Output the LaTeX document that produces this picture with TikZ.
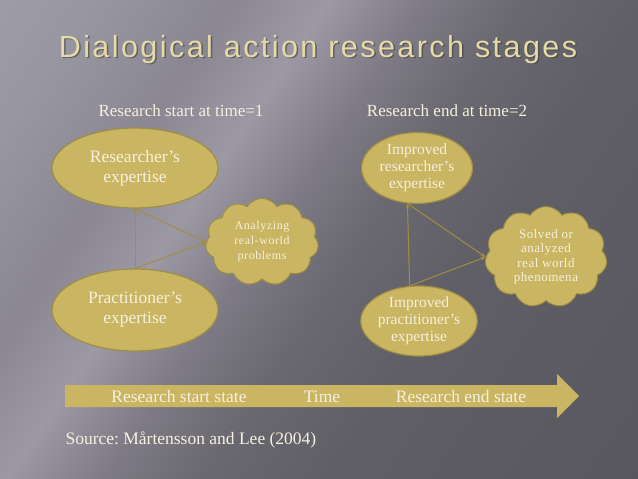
\documentclass[tikz,border=0pt]{standalone}
\usepackage{fontspec}
\setmainfont{Liberation Serif}
\newfontfamily\titlefont{Liberation Sans}[LetterSpace=8]
\usetikzlibrary{shapes.geometric,shapes.symbols,arrows.meta}
\definecolor{gold}{HTML}{C9B562}
\definecolor{golddark}{HTML}{A08E46}
\definecolor{linkgold}{HTML}{A28E42}
\definecolor{cream}{HTML}{F6F0DE}
\definecolor{titlegold}{HTML}{E6DAA6}
\definecolor{bgA}{HTML}{ABA8B2}
\definecolor{bgB}{HTML}{9896A0}
\definecolor{bgC}{HTML}{8A8792}
\definecolor{bgD}{HTML}{9C99A4}
\definecolor{bgE}{HTML}{7E7B86}
\definecolor{bgF}{HTML}{6A6870}
\definecolor{bgG}{HTML}{605E66}
\definecolor{bgH}{HTML}{545259}
\pgfdeclarehorizontalshading{slide}{100bp}{color(0bp)=(bgA); color(22bp)=(bgB); color(32bp)=(bgC); color(39bp)=(bgD); color(46bp)=(bgE); color(53bp)=(bgF); color(62bp)=(bgG); color(100bp)=(bgH)}
\frenchspacing
\begin{document}
\begin{tikzpicture}[x=1pt, y=-1pt,
  expert/.style={ellipse, fill=gold, draw=golddark, line width=1.2pt, text=cream, align=center, inner sep=0pt},
  puff/.style={cloud, cloud puffs=11, cloud puff arc=115, fill=gold, draw=golddark, line width=1pt, text=cream, align=center, inner sep=0pt},
  link/.style={draw=linkgold, line width=1pt},
  tip/.style={-{Stealth[length=5pt,width=4pt]}},
  caption/.style={text=cream, font=\fontsize{17}{20}\selectfont}]
% background
\useasboundingbox (0,0) rectangle (638,479);
\shade[shading=slide, shading angle=-34] (0,0) rectangle (638,479);
% title
\node[anchor=base, text=black!75, opacity=0.6, font=\titlefont\fontsize{30.5}{34}\selectfont] at (319.5,58.5) {Dialogical action research stages};
\node[anchor=base, text=titlegold, font=\titlefont\fontsize{30.5}{34}\selectfont] (title) at (318,57) {Dialogical action research stages};
% time labels
\node[caption] (start) at (181,111) {Research start at time=1};
\node[caption] (finish) at (447,111) {Research end at time=2};
% time 1
\node[expert, minimum width=166pt, minimum height=80pt, font=\fontsize{17.5}{20}\selectfont] (res) at (135,168) {Researcher’s\\expertise};
\node[expert, minimum width=166pt, minimum height=82pt, font=\fontsize{17.5}{20}\selectfont] (prac) at (135,310) {Practitioner’s\\expertise};
\node[puff, minimum width=113pt, minimum height=85pt, font=\fontsize{12}{15}\selectfont\addfontfeature{LetterSpace=5}] (analyze) at (262,242) {Analyzing\\real-world\\problems};
% time 2
\node[expert, minimum width=111pt, minimum height=71pt, font=\fontsize{15.5}{17}\selectfont] (ires) at (417,168) {Improved\\researcher’s\\expertise};
\node[expert, minimum width=115pt, minimum height=70pt, font=\fontsize{15.5}{17}\selectfont] (iprac) at (419,321) {Improved\\practitioner’s\\expertise};
\node[puff, minimum width=122pt, minimum height=99pt, font=\fontsize{13}{14.5}\selectfont\addfontfeature{LetterSpace=4}] (solved) at (546,257) {Solved or\\analyzed\\real world\\phenomena};
% connectors
\draw[link, tip] (prac.north) -- (res.south);
\draw[link, tip] (res.south) -- (analyze.west);
\draw[link, tip] (prac.north) -- (analyze.west);
\draw[link, tip] (iprac.105) -- (ires.255);
\draw[link, tip] (ires.255) -- (solved.west);
\draw[link, tip] (iprac.105) -- (solved.west);
% time arrow
\fill[gold] (65,385) -- (557,385) -- (557,374) -- (579,396) -- (557,418) -- (557,407) -- (65,407) -- cycle;
\node[caption, font=\fontsize{17.5}{20}\selectfont] (sstate) at (179,397) {Research start state};
\node[caption, font=\fontsize{17.5}{20}\selectfont] (time) at (322,397) {Time};
\node[caption, font=\fontsize{17.5}{20}\selectfont] (estate) at (461,397) {Research end state};
% source
\node[caption, anchor=west, font=\fontsize{17.5}{20}\selectfont] (source) at (62,440) {Source: Mårtensson and Lee (2004)};
\end{tikzpicture}
\end{document}
